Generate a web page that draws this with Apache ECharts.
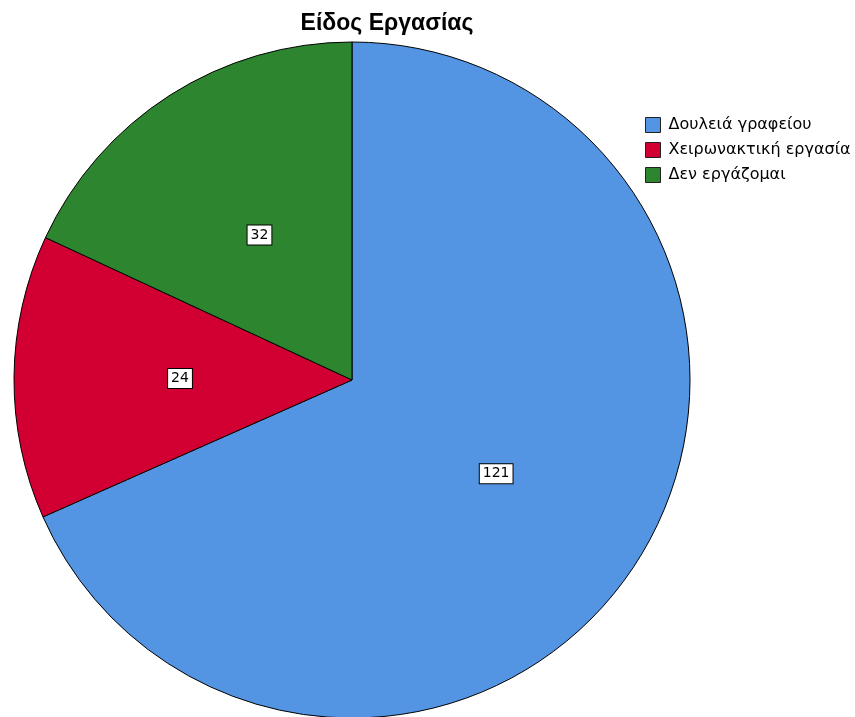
<!DOCTYPE html>
<html><head><meta charset="utf-8">
<script src="https://cdn.jsdelivr.net/npm/echarts@6/dist/echarts.min.js"></script>
<style>html,body{margin:0;padding:0;background:#fff}#c{width:855px;height:717px}</style>
</head><body><div id="c"></div>
<script>
const categories = ['Δουλειά γραφείου', 'Χειρωνακτική εργασία', 'Δεν εργάζομαι'];
const values = [121, 24, 32];
const colors = ['#5394E3', '#D20032', '#2E8530'];
const chart = echarts.init(document.getElementById('c'));
chart.setOption({
  animation: false,
  backgroundColor: '#fff',
  title: {
    text: 'Είδος Εργασίας', left: 387, top: 12, textAlign: 'center', padding: 0,
    textStyle: {fontFamily: 'Liberation Sans', fontSize: 23, fontWeight: 'bold', color: '#000'}
  },
  legend: {
    orient: 'vertical', left: 645, top: 117, padding: 0, itemWidth: 15, itemHeight: 15, itemGap: 9,
    icon: 'rect',
    itemStyle: {borderColor: '#222', borderWidth: 1},
    textStyle: {fontFamily: 'DejaVu Sans', fontSize: 16, color: '#000', padding: [0,0,0,3]},
    data: categories
  },
  series: [{
    type: 'pie', center: [352, 380], radius: 338, startAngle: 90, clockwise: true,
    itemStyle: {borderColor: '#000', borderWidth: 1},
    label: {
      position: 'inside', formatter: '{c}', fontFamily: 'DejaVu Sans', fontSize: 14, color: '#000',
      backgroundColor: '#fff', borderColor: '#000', borderWidth: 1, padding: [3, 3, 2, 3]
    },
    labelLine: {show: false},
    emphasis: {disabled: true},
    data: categories.map((n, i) => ({name: n, value: values[i], itemStyle: {color: colors[i]}}))
  }]
});
</script></body></html>
